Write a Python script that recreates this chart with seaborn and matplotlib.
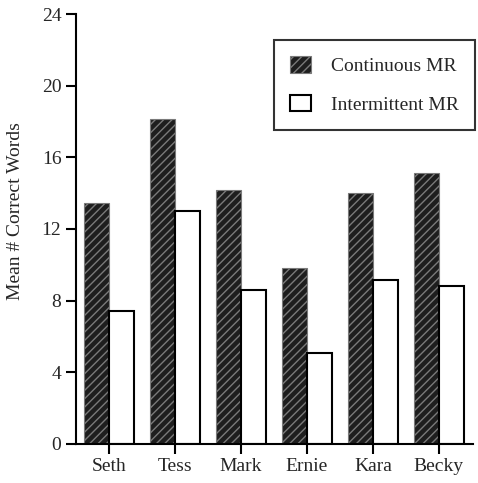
import numpy as np
import pandas as pd
import matplotlib
matplotlib.use("Agg")
import matplotlib.pyplot as plt
import seaborn as sns

students = ["Seth", "Tess", "Mark", "Ernie", "Kara", "Becky"]
continuous = [13.45, 18.15, 14.2, 9.83, 14.0, 15.15]
intermittent = [7.43, 13.0, 8.6, 5.08, 9.16, 8.83]
conditions = ["Continuous MR", "Intermittent MR"]
y_ticks = [0, 4, 8, 12, 16, 20, 24]

df = pd.DataFrame({
    "student": students * 2,
    "words": continuous + intermittent,
    "condition": [conditions[0]] * len(students) + [conditions[1]] * len(students),
})

sns.set_style("ticks")
plt.rcParams["font.family"] = ["Liberation Serif", "DejaVu Serif"]
plt.rcParams["hatch.linewidth"] = 1.0

fig = plt.figure(figsize=(4.78, 4.83), dpi=100)
ax = fig.add_axes([0.159, 0.081, 0.831, 0.890])

sns.barplot(data=df, x="student", y="words", hue="condition",
            palette=["#1e1e1e", "white"], width=0.77, ax=ax,
            edgecolor="black", linewidth=1.5, saturation=1, legend=False)

# dark bars get the grey diagonal texture
for bar in ax.containers[0]:
    bar.set_hatch("////")
    bar.set_edgecolor("#7a7a7a")
    bar.set_linewidth(0.8)

ax.set_ylim(0, 24)
ax.set_xlim(-0.5, 5.52)
ax.set_yticks(y_ticks)
ax.set_xlabel("")
ax.set_ylabel("Mean # Correct Words", fontsize=14)
ax.yaxis.set_label_coords(-0.131, 0.542)
ax.tick_params(axis="both", labelsize=14, width=1.5, length=7, color="black")
sns.despine(ax=ax)
for s in ["left", "bottom"]:
    ax.spines[s].set_linewidth(1.5)
    ax.spines[s].set_color("black")

handles = [ax.containers[0][0], ax.containers[1][0]]
leg = ax.legend(handles, conditions, loc="upper right",
                bbox_to_anchor=(1.005, 0.94), fontsize=14,
                handlelength=1.08, handleheight=0.93, labelspacing=1.0,
                handletextpad=1.0, borderpad=0.85, borderaxespad=0,
                frameon=True, fancybox=False)
leg.get_frame().set_edgecolor("black")
leg.get_frame().set_linewidth(1.5)

fig.savefig("out.png", dpi=100)
